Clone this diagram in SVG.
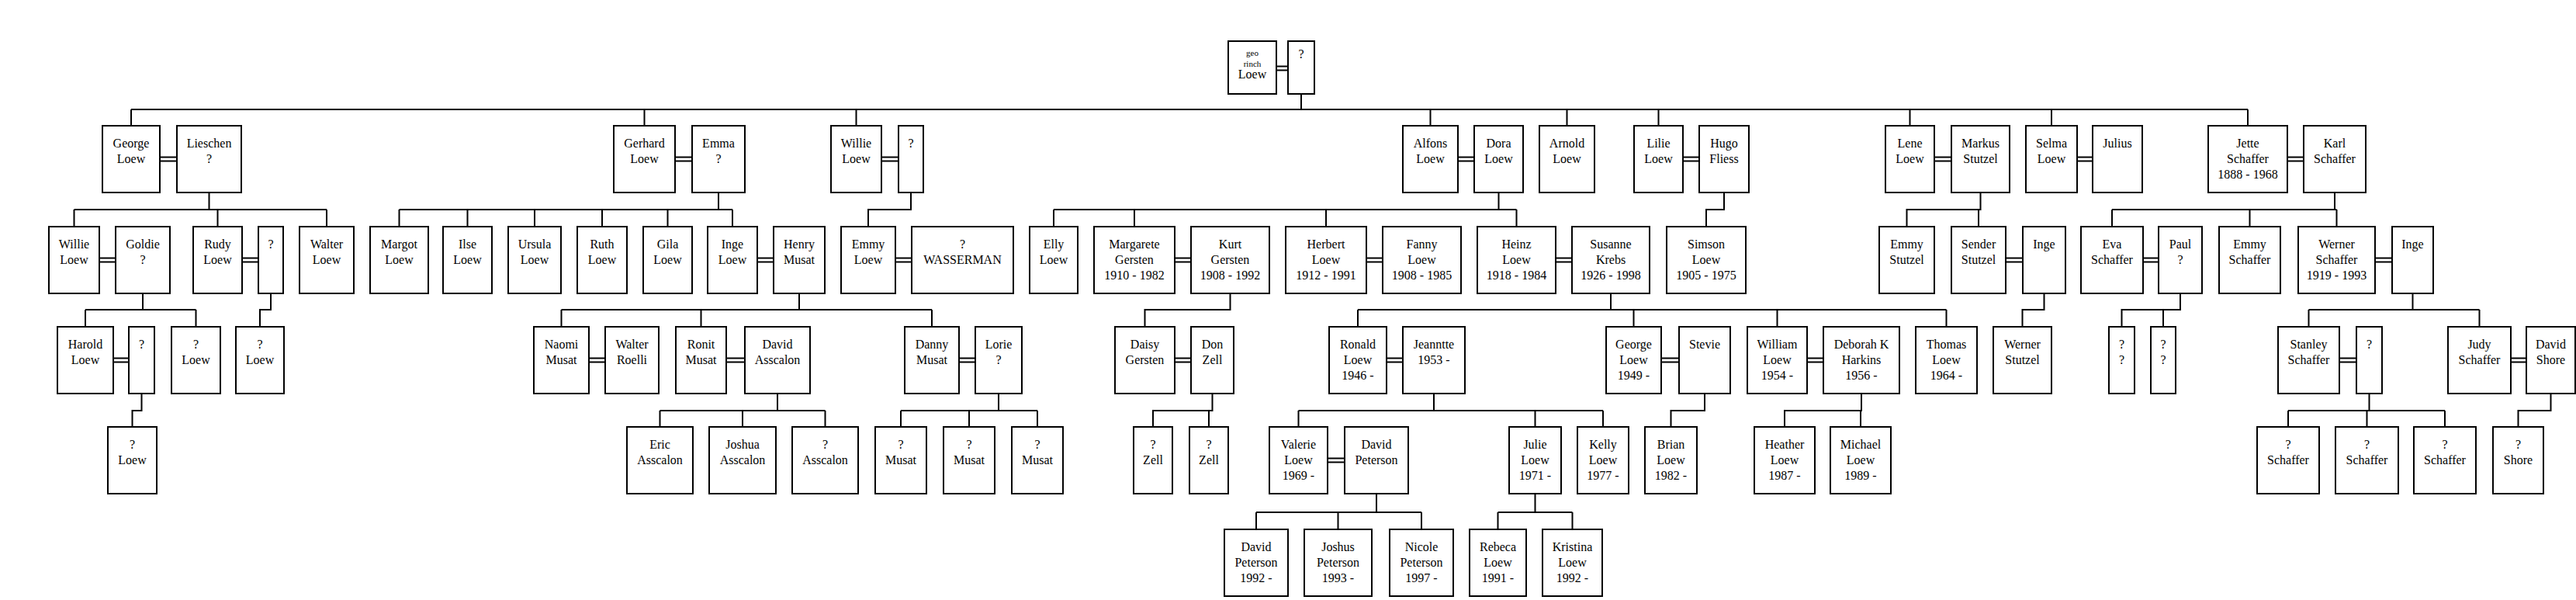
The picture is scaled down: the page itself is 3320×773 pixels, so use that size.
<svg xmlns="http://www.w3.org/2000/svg" width="3320" height="773" viewBox="0 0 3320 773">
<style>
.n rect{fill:#fff;stroke:#000;stroke-width:2}
.n text{font-family:"Liberation Serif","Times New Roman",serif;font-size:16px;text-anchor:middle;fill:#000}
.c path{fill:none;stroke:#000;stroke-width:2}
.m path{fill:none;stroke:#000;stroke-width:2}
</style>
<rect x="0" y="0" width="3320" height="773" fill="#fff"/>
<g id="connectors">
<g class="c">
<path d="M1677,121V141M169,141H2897M169,141V162M830.5,141V162M1103.5,141V162M1843.5,141V162M2019.5,141V162M2137.5,141V162M2461.5,141V162M2644,141V162M2897,141V162"/>
<path d="M269.5,248V270M95.5,270H421M95.5,270V292M280.5,270V292M421,270V292"/>
<path d="M184,378V399M110,399H252.5M110,399V421M252.5,399V421"/>
<path d="M349,378V399H335V421"/>
<path d="M182.5,508V529H170.5V550"/>
<path d="M926,248V270M514.5,270H944M514.5,270V292M602.5,270V292M689,270V292M776,270V292M860.5,270V292M944,270V292"/>
<path d="M1030,378V399M723.5,399H1201M723.5,399V421M903.5,399V421M1201,399V421"/>
<path d="M1002,508V529M850.5,529H1063.5M850.5,529V550M957,529V550M1063.5,529V550"/>
<path d="M1287,508V529M1161,529H1337M1161,529V550M1249,529V550M1337,529V550"/>
<path d="M1174,248V270H1119V292"/>
<path d="M1931.5,248V270M1358,270H1954.5M1358,270V292M1462,270V292M1709,270V292M1954.5,270V292"/>
<path d="M1585.5,378V399H1475.5V421"/>
<path d="M1562.5,508V529H1486V550M1558,529V550"/>
<path d="M2076,378V399M1750,399H2508.5M1750,399V421M2105.5,399V421M2290.5,399V421M2508.5,399V421"/>
<path d="M1848,508V529M1673.5,529H2066M1673.5,529V550M1978.5,529V550M2066,529V550"/>
<path d="M1774,637V660M1619,660H1832M1619,660V682M1724.5,660V682M1832,660V682"/>
<path d="M1978.5,637V660M1930.5,660H2026.5M1930.5,660V682M2026.5,660V682"/>
<path d="M2222,248V270H2199V292"/>
<path d="M2197,508V529H2153.5V550"/>
<path d="M2399,508V529H2300V550M2398,529V550"/>
<path d="M2552.5,248V270H2457.5V292M2550,270V292"/>
<path d="M2634.5,378V399H2606.5V421"/>
<path d="M3009,248V270M2722,270H3011.5M2722,270V292M2899.5,270V292M3011.5,270V292"/>
<path d="M2810,378V399H2734.5V421M2788,399V421"/>
<path d="M3109.5,378V399M2975.5,399H3195.5M2975.5,399V421M3195.5,399V421"/>
<path d="M3053.5,508V529M2949,529H3151M2949,529V550M3050.5,529V550M3151,529V550"/>
<path d="M3287.5,508V529H3245.5V550"/>
</g>
<g class="m">
<path d="M206,202.5H228M206,207.5H228M870,202.5H892M870,207.5H892M1136,202.5H1158M1136,207.5H1158M1879,202.5H1900M1879,207.5H1900M2169,202.5H2190M2169,207.5H2190M2493,202.5H2515M2493,207.5H2515M2677,202.5H2697M2677,207.5H2697M2948,202.5H2969M2948,207.5H2969M1645,85.5H1660M1645,90.5H1660"/>
<path d="M128,332.5H149M128,337.5H149M312,332.5H333M312,337.5H333M976,332.5H997M976,337.5H997M1154,332.5H1175M1154,337.5H1175M1514,332.5H1535M1514,337.5H1535M1761,332.5H1782M1761,337.5H1782M2005,332.5H2026M2005,337.5H2026M2585,332.5H2607M2585,337.5H2607M2762,332.5H2782M2762,337.5H2782M3061,332.5H3083M3061,337.5H3083"/>
<path d="M146,461.5H166M146,466.5H166M759,461.5H780M759,466.5H780M936,461.5H960M936,466.5H960M1236,461.5H1257M1236,466.5H1257M1514,461.5H1535M1514,466.5H1535M1787,461.5H1808M1787,466.5H1808M2141,461.5H2164M2141,466.5H2164M2329,461.5H2350M2329,466.5H2350M3015,461.5H3037M3015,466.5H3037M3236,461.5H3256M3236,466.5H3256"/>
<path d="M1711,590.5H1733M1711,595.5H1733"/>
</g>
</g>
<g id="root" class="n"><rect x="1583" y="53" width="62" height="68"/><text x="1614" y="72" style="font-size:11px">geo</text><text x="1614" y="86" style="font-size:11px">rinch</text><text x="1614" y="101">Loew</text></g>
<g id="rootsp" class="n"><rect x="1660" y="53" width="34" height="68"/><text x="1677" y="75">?</text></g>
<g id="george" class="n"><rect x="132" y="162" width="74" height="86"/><text x="169" y="190">George</text><text x="169" y="210">Loew</text></g>
<g id="lieschen" class="n"><rect x="228" y="162" width="83" height="86"/><text x="269.5" y="190">Lieschen</text><text x="269.5" y="210">?</text></g>
<g id="gerhard" class="n"><rect x="791" y="162" width="79" height="86"/><text x="830.5" y="190">Gerhard</text><text x="830.5" y="210">Loew</text></g>
<g id="emma" class="n"><rect x="892" y="162" width="68" height="86"/><text x="926" y="190">Emma</text><text x="926" y="210">?</text></g>
<g id="willie2" class="n"><rect x="1071" y="162" width="65" height="86"/><text x="1103.5" y="190">Willie</text><text x="1103.5" y="210">Loew</text></g>
<g id="willie2sp" class="n"><rect x="1158" y="162" width="32" height="86"/><text x="1174" y="190">?</text></g>
<g id="alfons" class="n"><rect x="1808" y="162" width="71" height="86"/><text x="1843.5" y="190">Alfons</text><text x="1843.5" y="210">Loew</text></g>
<g id="dora" class="n"><rect x="1900" y="162" width="63" height="86"/><text x="1931.5" y="190">Dora</text><text x="1931.5" y="210">Loew</text></g>
<g id="arnold" class="n"><rect x="1984" y="162" width="71" height="86"/><text x="2019.5" y="190">Arnold</text><text x="2019.5" y="210">Loew</text></g>
<g id="lilie" class="n"><rect x="2106" y="162" width="63" height="86"/><text x="2137.5" y="190">Lilie</text><text x="2137.5" y="210">Loew</text></g>
<g id="hugo" class="n"><rect x="2190" y="162" width="64" height="86"/><text x="2222" y="190">Hugo</text><text x="2222" y="210">Fliess</text></g>
<g id="lene" class="n"><rect x="2430" y="162" width="63" height="86"/><text x="2461.5" y="190">Lene</text><text x="2461.5" y="210">Loew</text></g>
<g id="markus" class="n"><rect x="2515" y="162" width="75" height="86"/><text x="2552.5" y="190">Markus</text><text x="2552.5" y="210">Stutzel</text></g>
<g id="selma" class="n"><rect x="2611" y="162" width="66" height="86"/><text x="2644" y="190">Selma</text><text x="2644" y="210">Loew</text></g>
<g id="julius" class="n"><rect x="2697" y="162" width="64" height="86"/><text x="2729" y="190">Julius</text></g>
<g id="jette" class="n"><rect x="2846" y="162" width="102" height="86"/><text x="2897" y="190">Jette</text><text x="2897" y="210">Schaffer</text><text x="2897" y="230">1888 - 1968</text></g>
<g id="karl" class="n"><rect x="2969" y="162" width="80" height="86"/><text x="3009" y="190">Karl</text><text x="3009" y="210">Schaffer</text></g>
<g id="willie" class="n"><rect x="63" y="292" width="65" height="86"/><text x="95.5" y="320">Willie</text><text x="95.5" y="340">Loew</text></g>
<g id="goldie" class="n"><rect x="149" y="292" width="70" height="86"/><text x="184" y="320">Goldie</text><text x="184" y="340">?</text></g>
<g id="rudy" class="n"><rect x="249" y="292" width="63" height="86"/><text x="280.5" y="320">Rudy</text><text x="280.5" y="340">Loew</text></g>
<g id="rudysp" class="n"><rect x="333" y="292" width="32" height="86"/><text x="349" y="320">?</text></g>
<g id="walter" class="n"><rect x="386" y="292" width="70" height="86"/><text x="421" y="320">Walter</text><text x="421" y="340">Loew</text></g>
<g id="margot" class="n"><rect x="477" y="292" width="75" height="86"/><text x="514.5" y="320">Margot</text><text x="514.5" y="340">Loew</text></g>
<g id="ilse" class="n"><rect x="571" y="292" width="63" height="86"/><text x="602.5" y="320">Ilse</text><text x="602.5" y="340">Loew</text></g>
<g id="ursula" class="n"><rect x="655" y="292" width="68" height="86"/><text x="689" y="320">Ursula</text><text x="689" y="340">Loew</text></g>
<g id="ruth" class="n"><rect x="744" y="292" width="64" height="86"/><text x="776" y="320">Ruth</text><text x="776" y="340">Loew</text></g>
<g id="gila" class="n"><rect x="829" y="292" width="63" height="86"/><text x="860.5" y="320">Gila</text><text x="860.5" y="340">Loew</text></g>
<g id="inge" class="n"><rect x="912" y="292" width="64" height="86"/><text x="944" y="320">Inge</text><text x="944" y="340">Loew</text></g>
<g id="henry" class="n"><rect x="997" y="292" width="66" height="86"/><text x="1030" y="320">Henry</text><text x="1030" y="340">Musat</text></g>
<g id="emmy" class="n"><rect x="1084" y="292" width="70" height="86"/><text x="1119" y="320">Emmy</text><text x="1119" y="340">Loew</text></g>
<g id="wasserman" class="n"><rect x="1175" y="292" width="131" height="86"/><text x="1240.5" y="320">?</text><text x="1240.5" y="340">WASSERMAN</text></g>
<g id="elly" class="n"><rect x="1327" y="292" width="62" height="86"/><text x="1358" y="320">Elly</text><text x="1358" y="340">Loew</text></g>
<g id="margarete" class="n"><rect x="1410" y="292" width="104" height="86"/><text x="1462" y="320">Margarete</text><text x="1462" y="340">Gersten</text><text x="1462" y="360">1910 - 1982</text></g>
<g id="kurt" class="n"><rect x="1535" y="292" width="101" height="86"/><text x="1585.5" y="320">Kurt</text><text x="1585.5" y="340">Gersten</text><text x="1585.5" y="360">1908 - 1992</text></g>
<g id="herbert" class="n"><rect x="1657" y="292" width="104" height="86"/><text x="1709" y="320">Herbert</text><text x="1709" y="340">Loew</text><text x="1709" y="360">1912 - 1991</text></g>
<g id="fanny" class="n"><rect x="1782" y="292" width="101" height="86"/><text x="1832.5" y="320">Fanny</text><text x="1832.5" y="340">Loew</text><text x="1832.5" y="360">1908 - 1985</text></g>
<g id="heinz" class="n"><rect x="1904" y="292" width="101" height="86"/><text x="1954.5" y="320">Heinz</text><text x="1954.5" y="340">Loew</text><text x="1954.5" y="360">1918 - 1984</text></g>
<g id="susanne" class="n"><rect x="2026" y="292" width="100" height="86"/><text x="2076" y="320">Susanne</text><text x="2076" y="340">Krebs</text><text x="2076" y="360">1926 - 1998</text></g>
<g id="simson" class="n"><rect x="2148" y="292" width="102" height="86"/><text x="2199" y="320">Simson</text><text x="2199" y="340">Loew</text><text x="2199" y="360">1905 - 1975</text></g>
<g id="emmystutzel" class="n"><rect x="2422" y="292" width="71" height="86"/><text x="2457.5" y="320">Emmy</text><text x="2457.5" y="340">Stutzel</text></g>
<g id="sender" class="n"><rect x="2515" y="292" width="70" height="86"/><text x="2550" y="320">Sender</text><text x="2550" y="340">Stutzel</text></g>
<g id="ingestutzel" class="n"><rect x="2607" y="292" width="55" height="86"/><text x="2634.5" y="320">Inge</text></g>
<g id="eva" class="n"><rect x="2682" y="292" width="80" height="86"/><text x="2722" y="320">Eva</text><text x="2722" y="340">Schaffer</text></g>
<g id="paul" class="n"><rect x="2782" y="292" width="56" height="86"/><text x="2810" y="320">Paul</text><text x="2810" y="340">?</text></g>
<g id="emmyschaffer" class="n"><rect x="2860" y="292" width="79" height="86"/><text x="2899.5" y="320">Emmy</text><text x="2899.5" y="340">Schaffer</text></g>
<g id="werner" class="n"><rect x="2962" y="292" width="99" height="86"/><text x="3011.5" y="320">Werner</text><text x="3011.5" y="340">Schaffer</text><text x="3011.5" y="360">1919 - 1993</text></g>
<g id="ingeschaffer" class="n"><rect x="3083" y="292" width="53" height="86"/><text x="3109.5" y="320">Inge</text></g>
<g id="harold" class="n"><rect x="74" y="421" width="72" height="86"/><text x="110" y="449">Harold</text><text x="110" y="469">Loew</text></g>
<g id="haroldsp" class="n"><rect x="166" y="421" width="33" height="86"/><text x="182.5" y="449">?</text></g>
<g id="qloew1" class="n"><rect x="221" y="421" width="63" height="86"/><text x="252.5" y="449">?</text><text x="252.5" y="469">Loew</text></g>
<g id="qloew2" class="n"><rect x="304" y="421" width="62" height="86"/><text x="335" y="449">?</text><text x="335" y="469">Loew</text></g>
<g id="naomi" class="n"><rect x="688" y="421" width="71" height="86"/><text x="723.5" y="449">Naomi</text><text x="723.5" y="469">Musat</text></g>
<g id="walterroelli" class="n"><rect x="780" y="421" width="69" height="86"/><text x="814.5" y="449">Walter</text><text x="814.5" y="469">Roelli</text></g>
<g id="ronit" class="n"><rect x="871" y="421" width="65" height="86"/><text x="903.5" y="449">Ronit</text><text x="903.5" y="469">Musat</text></g>
<g id="davidasscalon" class="n"><rect x="960" y="421" width="84" height="86"/><text x="1002" y="449">David</text><text x="1002" y="469">Asscalon</text></g>
<g id="danny" class="n"><rect x="1166" y="421" width="70" height="86"/><text x="1201" y="449">Danny</text><text x="1201" y="469">Musat</text></g>
<g id="lorie" class="n"><rect x="1257" y="421" width="60" height="86"/><text x="1287" y="449">Lorie</text><text x="1287" y="469">?</text></g>
<g id="daisy" class="n"><rect x="1437" y="421" width="77" height="86"/><text x="1475.5" y="449">Daisy</text><text x="1475.5" y="469">Gersten</text></g>
<g id="don" class="n"><rect x="1535" y="421" width="55" height="86"/><text x="1562.5" y="449">Don</text><text x="1562.5" y="469">Zell</text></g>
<g id="ronald" class="n"><rect x="1713" y="421" width="74" height="86"/><text x="1750" y="449">Ronald</text><text x="1750" y="469">Loew</text><text x="1750" y="489">1946 -</text></g>
<g id="jeanntte" class="n"><rect x="1808" y="421" width="80" height="86"/><text x="1848" y="449">Jeanntte</text><text x="1848" y="469">1953 -</text></g>
<g id="georgeloew" class="n"><rect x="2070" y="421" width="71" height="86"/><text x="2105.5" y="449">George</text><text x="2105.5" y="469">Loew</text><text x="2105.5" y="489">1949 -</text></g>
<g id="stevie" class="n"><rect x="2164" y="421" width="66" height="86"/><text x="2197" y="449">Stevie</text></g>
<g id="william" class="n"><rect x="2252" y="421" width="77" height="86"/><text x="2290.5" y="449">William</text><text x="2290.5" y="469">Loew</text><text x="2290.5" y="489">1954 -</text></g>
<g id="deborah" class="n"><rect x="2350" y="421" width="98" height="86"/><text x="2399" y="449">Deborah K</text><text x="2399" y="469">Harkins</text><text x="2399" y="489">1956 -</text></g>
<g id="thomas" class="n"><rect x="2469" y="421" width="79" height="86"/><text x="2508.5" y="449">Thomas</text><text x="2508.5" y="469">Loew</text><text x="2508.5" y="489">1964 -</text></g>
<g id="wernerstutzel" class="n"><rect x="2569" y="421" width="75" height="86"/><text x="2606.5" y="449">Werner</text><text x="2606.5" y="469">Stutzel</text></g>
<g id="evachild1" class="n"><rect x="2718" y="421" width="33" height="86"/><text x="2734.5" y="449">?</text><text x="2734.5" y="469">?</text></g>
<g id="evachild2" class="n"><rect x="2772" y="421" width="32" height="86"/><text x="2788" y="449">?</text><text x="2788" y="469">?</text></g>
<g id="stanley" class="n"><rect x="2936" y="421" width="79" height="86"/><text x="2975.5" y="449">Stanley</text><text x="2975.5" y="469">Schaffer</text></g>
<g id="stanleysp" class="n"><rect x="3037" y="421" width="33" height="86"/><text x="3053.5" y="449">?</text></g>
<g id="judy" class="n"><rect x="3155" y="421" width="81" height="86"/><text x="3195.5" y="449">Judy</text><text x="3195.5" y="469">Schaffer</text></g>
<g id="davidshore" class="n"><rect x="3256" y="421" width="63" height="86"/><text x="3287.5" y="449">David</text><text x="3287.5" y="469">Shore</text></g>
<g id="qloew3" class="n"><rect x="139" y="550" width="63" height="86"/><text x="170.5" y="578">?</text><text x="170.5" y="598">Loew</text></g>
<g id="eric" class="n"><rect x="808" y="550" width="85" height="86"/><text x="850.5" y="578">Eric</text><text x="850.5" y="598">Asscalon</text></g>
<g id="joshua" class="n"><rect x="914" y="550" width="86" height="86"/><text x="957" y="578">Joshua</text><text x="957" y="598">Asscalon</text></g>
<g id="qasscalon" class="n"><rect x="1021" y="550" width="85" height="86"/><text x="1063.5" y="578">?</text><text x="1063.5" y="598">Asscalon</text></g>
<g id="musat1" class="n"><rect x="1128" y="550" width="66" height="86"/><text x="1161" y="578">?</text><text x="1161" y="598">Musat</text></g>
<g id="musat2" class="n"><rect x="1216" y="550" width="66" height="86"/><text x="1249" y="578">?</text><text x="1249" y="598">Musat</text></g>
<g id="musat3" class="n"><rect x="1304" y="550" width="66" height="86"/><text x="1337" y="578">?</text><text x="1337" y="598">Musat</text></g>
<g id="zell1" class="n"><rect x="1461" y="550" width="50" height="86"/><text x="1486" y="578">?</text><text x="1486" y="598">Zell</text></g>
<g id="zell2" class="n"><rect x="1533" y="550" width="50" height="86"/><text x="1558" y="578">?</text><text x="1558" y="598">Zell</text></g>
<g id="valerie" class="n"><rect x="1636" y="550" width="75" height="86"/><text x="1673.5" y="578">Valerie</text><text x="1673.5" y="598">Loew</text><text x="1673.5" y="618">1969 -</text></g>
<g id="davidpeterson" class="n"><rect x="1733" y="550" width="82" height="86"/><text x="1774" y="578">David</text><text x="1774" y="598">Peterson</text></g>
<g id="julie" class="n"><rect x="1945" y="550" width="67" height="86"/><text x="1978.5" y="578">Julie</text><text x="1978.5" y="598">Loew</text><text x="1978.5" y="618">1971 -</text></g>
<g id="kelly" class="n"><rect x="2033" y="550" width="66" height="86"/><text x="2066" y="578">Kelly</text><text x="2066" y="598">Loew</text><text x="2066" y="618">1977 -</text></g>
<g id="brian" class="n"><rect x="2120" y="550" width="67" height="86"/><text x="2153.5" y="578">Brian</text><text x="2153.5" y="598">Loew</text><text x="2153.5" y="618">1982 -</text></g>
<g id="heather" class="n"><rect x="2261" y="550" width="78" height="86"/><text x="2300" y="578">Heather</text><text x="2300" y="598">Loew</text><text x="2300" y="618">1987 -</text></g>
<g id="michael" class="n"><rect x="2359" y="550" width="78" height="86"/><text x="2398" y="578">Michael</text><text x="2398" y="598">Loew</text><text x="2398" y="618">1989 -</text></g>
<g id="schaffer1" class="n"><rect x="2909" y="550" width="80" height="86"/><text x="2949" y="578">?</text><text x="2949" y="598">Schaffer</text></g>
<g id="schaffer2" class="n"><rect x="3010" y="550" width="81" height="86"/><text x="3050.5" y="578">?</text><text x="3050.5" y="598">Schaffer</text></g>
<g id="schaffer3" class="n"><rect x="3111" y="550" width="80" height="86"/><text x="3151" y="578">?</text><text x="3151" y="598">Schaffer</text></g>
<g id="shore" class="n"><rect x="3213" y="550" width="65" height="86"/><text x="3245.5" y="578">?</text><text x="3245.5" y="598">Shore</text></g>
<g id="davidpeterson2" class="n"><rect x="1578" y="682" width="82" height="86"/><text x="1619" y="710">David</text><text x="1619" y="730">Peterson</text><text x="1619" y="750">1992 -</text></g>
<g id="joshus" class="n"><rect x="1681" y="682" width="87" height="86"/><text x="1724.5" y="710">Joshus</text><text x="1724.5" y="730">Peterson</text><text x="1724.5" y="750">1993 -</text></g>
<g id="nicole" class="n"><rect x="1791" y="682" width="82" height="86"/><text x="1832" y="710">Nicole</text><text x="1832" y="730">Peterson</text><text x="1832" y="750">1997 -</text></g>
<g id="rebeca" class="n"><rect x="1894" y="682" width="73" height="86"/><text x="1930.5" y="710">Rebeca</text><text x="1930.5" y="730">Loew</text><text x="1930.5" y="750">1991 -</text></g>
<g id="kristina" class="n"><rect x="1988" y="682" width="77" height="86"/><text x="2026.5" y="710">Kristina</text><text x="2026.5" y="730">Loew</text><text x="2026.5" y="750">1992 -</text></g>
</svg>
